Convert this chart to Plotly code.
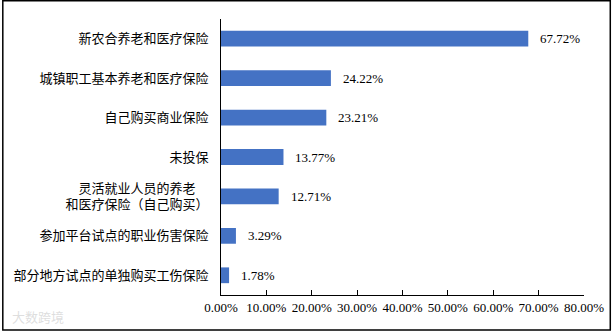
import plotly.graph_objects as go

categories = [
    "新农合养老和医疗保险",
    "城镇职工基本养老和医疗保险",
    "自己购买商业保险",
    "未投保",
    "灵活就业人员的养老\u3000<br>和医疗保险（自己购买）",
    "参加平台试点的职业伤害保险",
    "部分地方试点的单独购买工伤保险",
]
values = [67.72, 24.22, 23.21, 13.77, 12.71, 3.29, 1.78]
tick_vals = [0, 10, 20, 30, 40, 50, 60, 70, 80]
tick_text = ["0.00%", "10.00%", "20.00%", "30.00%", "40.00%", "50.00%", "60.00%", "70.00%", "80.00%"]

W, H = 616, 332
L, R, T, B = 221, 29, 19.3, 36.6

fig = go.Figure()
fig.add_trace(go.Bar(
    x=values, y=categories, orientation="h",
    marker=dict(color="#4472C4", line=dict(width=0)),
    width=0.4,
    hoverinfo="x+y",
))

for v, c in zip(values, categories):
    fig.add_annotation(
        x=v, y=c, xref="x", yref="y", text=f"{v:.2f}%",
        showarrow=False, xanchor="left", xshift=10,
        font=dict(family="Liberation Serif, Times New Roman, serif", size=13, color="#000"),
    )

pw = W - L - R
ph = H - T - B
def px(x):
    return (x - L) / pw
def py(y):
    return (H - B - y) / ph

fig.add_shape(type="rect", xref="paper", yref="paper",
              x0=px(1), x1=px(613.5), y0=py(330.5), y1=py(1),
              line=dict(color="#000", width=1.5), fillcolor="rgba(0,0,0,0)", layer="above")

fig.add_annotation(xref="paper", yref="paper", x=px(8), y=py(317), xanchor="left", yanchor="middle",
                   text="大数跨境", showarrow=False,
                   font=dict(family="Noto Sans CJK SC", size=13, color="rgba(200,200,200,0.6)"))

fig.update_layout(
    width=W, height=H,
    margin=dict(l=L, r=R, t=T, b=B, pad=0),
    paper_bgcolor="white", plot_bgcolor="white",
    showlegend=False,
    bargap=0.6,
    font=dict(family="Noto Sans CJK SC", size=13, color="#000"),
    xaxis=dict(
        range=[0, 80], tickvals=tick_vals, ticktext=tick_text,
        showgrid=False, zeroline=False,
        showline=True, linecolor="#000", linewidth=1,
        ticks="inside", ticklen=5, tickcolor="#000", tickwidth=1,
        tickfont=dict(family="Liberation Serif, Times New Roman, serif", size=13, color="#000"),
        fixedrange=True,
    ),
    yaxis=dict(
        categoryorder="array", categoryarray=categories[::-1],
        autorange=False, range=[-0.5, 6.5],
        showgrid=False, zeroline=False,
        showline=True, linecolor="#000", linewidth=1,
        ticks="", ticklabelstandoff=9,
        tickfont=dict(family="Noto Sans CJK SC", size=13, color="#000"),
        fixedrange=True,
    ),
)

fig.write_html("out.html")
